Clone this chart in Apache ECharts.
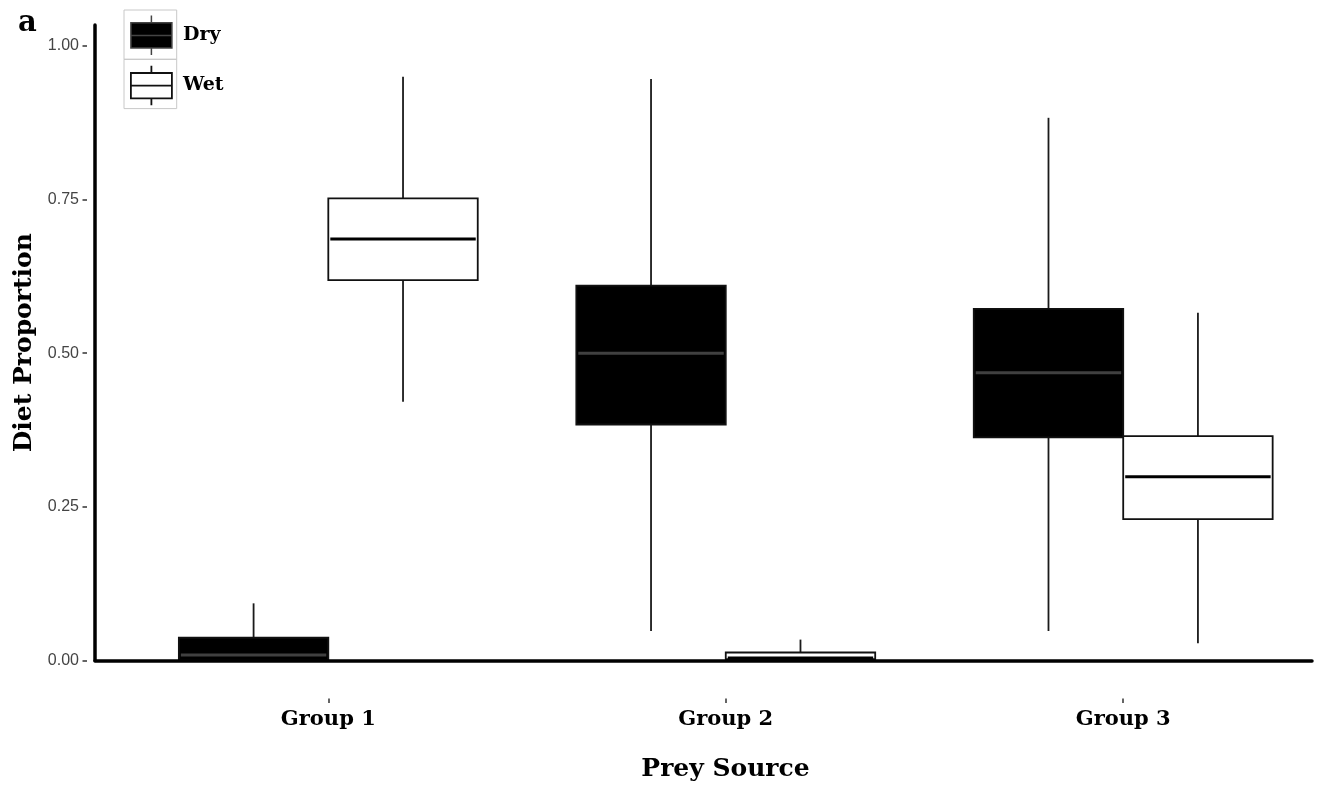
<!DOCTYPE html>
<html>
<head>
<meta charset="utf-8">
<script src="https://cdn.jsdelivr.net/npm/echarts@6/dist/echarts.min.js"></script>
<style>
html,body{margin:0;padding:0;background:#fff;}
#chart{width:1317px;height:787px;}
</style>
</head>
<body>
<div id="chart"></div>
<script>
// Categories (prey sources) and their positions on the x scale
const groups = ['Group 1', 'Group 2', 'Group 3'];
const groupPos = [1, 2, 3];
// Box statistics per group: [min, Q1, median, Q3, max]
const dryStats = [
  [0.000, 0.000, 0.009, 0.037, 0.093],
  [0.048, 0.384, 0.500, 0.610, 0.946],
  [0.048, 0.363, 0.468, 0.572, 0.883]
];
const wetStats = [
  [0.421, 0.619, 0.686, 0.752, 0.950],
  [0.000, 0.002, 0.004, 0.013, 0.034],
  [0.028, 0.230, 0.299, 0.365, 0.566]
];
const yTicks = [0, 0.25, 0.5, 0.75, 1.0];

const BOX_W = 0.376;           // box width in x units
const X_MIN = 0.413, X_MAX = 3.475;
const Y_MIN = 0, Y_MAX = 1.034;
const SERIF = 'DejaVu Serif';

function toData(stats) {
  return stats.map((s, i) => [groupPos[i]].concat(s));
}

function makeRender(offset, fill, medColor) {
  return function (params, api) {
    const g = api.value(0);
    const cx = api.coord([g + offset, 0])[0];
    const w = api.size([BOX_W, 0])[0];
    const y = k => api.coord([g, api.value(k)])[1];
    const yMin = y(1), yQ1 = y(2), yMed = y(3), yQ3 = y(4), yMax = y(5);
    const lineStyle = { stroke: '#1a1a1a', lineWidth: 1.8, fill: null };
    return {
      type: 'group',
      children: [
        { type: 'line', shape: { x1: cx, y1: yQ3, x2: cx, y2: yMax }, style: lineStyle },
        { type: 'line', shape: { x1: cx, y1: yQ1, x2: cx, y2: yMin }, style: lineStyle },
        { type: 'rect', shape: { x: cx - w / 2, y: yQ3, width: w, height: yQ1 - yQ3 },
          style: { fill: fill, stroke: '#111', lineWidth: 1.8 } },
        { type: 'line', shape: { x1: cx - w / 2 + 2, y1: yMed, x2: cx + w / 2 - 2, y2: yMed },
          style: { stroke: medColor, lineWidth: 3 } }
      ]
    };
  };
}

const iconPath = 'path://M20.5 0 L20.5 7.3 M0 7.3 L41 7.3 L41 32.6 L0 32.6 Z M0 20 L41 20 M20.5 32.6 L20.5 39.6';

const chart = echarts.init(document.getElementById('chart'), null, { renderer: 'canvas' });
chart.setOption({
  backgroundColor: '#fff',
  animation: false,
  grid: { left: 95, right: 5, top: 25, bottom: 126.5, containLabel: false },
  title: [{
    text: 'a', left: 13, top: 4,
    textStyle: { fontFamily: SERIF, fontWeight: 'bold', fontSize: 29, color: '#000' }
  }],
  legend: {
    orient: 'vertical', left: 130, top: 14.7, padding: 0,
    itemWidth: 41, itemHeight: 40, itemGap: 9, selectedMode: false,
    textStyle: { fontFamily: SERIF, fontWeight: 'bold', fontSize: 19, color: '#000', padding: [0, 0, 0, 6] },
    data: [
      { name: 'Dry', icon: iconPath, itemStyle: { color: '#000', borderColor: '#444', borderWidth: 1.5 } },
      { name: 'Wet', icon: iconPath, itemStyle: { color: '#fff', borderColor: '#111', borderWidth: 1.8 } }
    ]
  },
  graphic: [
    { type: 'rect', z: 100, shape: { x: 124, y: 10, width: 52.7, height: 49.3 },
      style: { fill: 'none', stroke: '#c8c8c8', lineWidth: 1 } },
    { type: 'rect', z: 100, shape: { x: 124, y: 59.3, width: 52.7, height: 49.3 },
      style: { fill: 'none', stroke: '#c8c8c8', lineWidth: 1 } },
    { type: 'text', x: 725.5, y: 769, z: 100,
      style: { text: 'Prey Source', textAlign: 'center', textVerticalAlign: 'middle',
        font: 'bold 25px "DejaVu Serif"', fill: '#000' } }
  ],
  xAxis: [
    { type: 'value', min: X_MIN, max: X_MAX, z: 5,
      axisLine: { show: true, onZero: false, lineStyle: { color: '#000', width: 3.5 } },
      axisTick: { show: false }, axisLabel: { show: false }, splitLine: { show: false } },
    { type: 'value', min: X_MIN, max: X_MAX, position: 'bottom', offset: 38,
      axisLine: { show: false, onZero: false },
      axisTick: { show: true, length: 4.5, customValues: groupPos, lineStyle: { color: '#333', width: 1.5 } },
      axisLabel: { show: true, customValues: groupPos, margin: 11,
        formatter: v => groups[groupPos.indexOf(v)] || '',
        fontFamily: SERIF, fontWeight: 'bold', fontSize: 21, color: '#000' },
      splitLine: { show: false } }
  ],
  yAxis: [
    { type: 'value', min: Y_MIN, max: Y_MAX, z: 5,
      name: 'Diet Proportion', nameLocation: 'middle', nameRotate: 90, nameGap: 58,
      nameTextStyle: { fontFamily: SERIF, fontWeight: 'bold', fontSize: 25, color: '#000' },
      axisLine: { show: true, onZero: false, lineStyle: { color: '#000', width: 3.5 } },
      axisTick: { show: false }, axisLabel: { show: false }, splitLine: { show: false } },
    { type: 'value', min: Y_MIN, max: Y_MAX, position: 'left', offset: 8,
      axisLine: { show: false, onZero: false },
      axisTick: { show: true, length: 4.5, customValues: yTicks, lineStyle: { color: '#333', width: 1.5 } },
      axisLabel: { show: true, customValues: yTicks, margin: 8,
        formatter: v => v.toFixed(2),
        fontFamily: 'Liberation Sans', fontSize: 16, color: '#444' },
      splitLine: { show: false } }
  ],
  series: [
    { name: 'Dry', type: 'custom', xAxisIndex: 0, yAxisIndex: 0,
      itemStyle: { color: '#000' },
      encode: { x: 0, y: [1, 2, 3, 4, 5] },
      renderItem: makeRender(-BOX_W / 2, '#000', '#404040'),
      data: toData(dryStats) },
    { name: 'Wet', type: 'custom', xAxisIndex: 0, yAxisIndex: 0,
      itemStyle: { color: '#fff', borderColor: '#111' },
      encode: { x: 0, y: [1, 2, 3, 4, 5] },
      renderItem: makeRender(BOX_W / 2, '#fff', '#000'),
      data: toData(wetStats) }
  ]
});
</script>
</body>
</html>
